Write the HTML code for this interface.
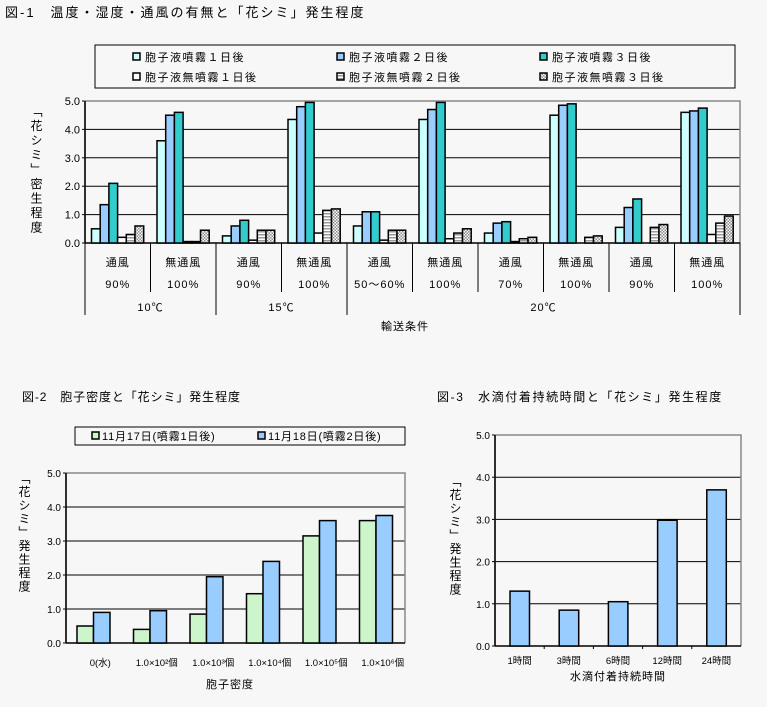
<!DOCTYPE html>
<html><head><meta charset="utf-8"><style>
body{margin:0;background:#f7f7f7;}
#w{position:relative;width:767px;height:707px;overflow:hidden;font-family:"Liberation Sans","Noto Sans CJK JP",sans-serif;}
.v{position:absolute;writing-mode:vertical-rl;font-size:12px;color:#000;}
</style></head><body><div id="w">
<svg id="s" width="767" height="707" xmlns="http://www.w3.org/2000/svg" style="position:absolute;left:0;top:0" font-family="Liberation Sans, Noto Sans CJK JP, sans-serif" font-size="11">
<defs>
<pattern id="hs" width="4" height="3" patternUnits="userSpaceOnUse"><rect width="4" height="3" fill="#fff"/><rect width="4" height="1.5" fill="#999"/></pattern>
<pattern id="dt" width="3" height="3" patternUnits="userSpaceOnUse"><rect width="3" height="3" fill="#fff"/><rect width="1.5" height="1.5" fill="#888"/><rect x="1.5" y="1.5" width="1.5" height="1.5" fill="#888"/></pattern>
</defs>
<text x="5" y="17" font-size="13" letter-spacing="2">図-1　温度・湿度・通風の有無と「花シミ」発生程度</text>
<rect x="95" y="45" width="640" height="43" fill="none" stroke="#000"/>
<g font-size="11" letter-spacing="1.5">
<rect x="133" y="53" width="7" height="7" fill="#ccffff" stroke="#000" stroke-width="1.5"/><text x="145" y="61">胞子液噴霧１日後</text>
<rect x="337" y="53" width="7" height="7" fill="#99ccff" stroke="#000" stroke-width="1.5"/><text x="349" y="61">胞子液噴霧２日後</text>
<rect x="540" y="53" width="7" height="7" fill="#33cccc" stroke="#000" stroke-width="1.5"/><text x="552" y="61">胞子液噴霧３日後</text>
<rect x="133" y="73" width="7" height="7" fill="#fff" stroke="#000" stroke-width="1.5"/><text x="145" y="81">胞子液無噴霧１日後</text>
<rect x="337" y="73" width="7" height="7" fill="url(#hs)" stroke="#000" stroke-width="1.5"/><text x="349" y="81">胞子液無噴霧２日後</text>
<rect x="540" y="73" width="7" height="7" fill="url(#dt)" stroke="#000" stroke-width="1.5"/><text x="552" y="81">胞子液無噴霧３日後</text>
</g>
<g id="g1"></g>
<g font-size="11" text-anchor="middle" id="l1" letter-spacing="1"></g>
<text x="405" y="330" font-size="11" text-anchor="middle" letter-spacing="1">輸送条件</text>

<text x="22" y="401" font-size="12" letter-spacing="0.9">図-2　胞子密度と「花シミ」発生程度</text>
<rect x="75" y="427" width="330" height="18" fill="none" stroke="#000"/>
<rect x="92" y="432" width="7" height="7" fill="#ccf5cc" stroke="#000" stroke-width="1.5"/><text x="102" y="440" letter-spacing="0.8">11月17日(噴霧1日後)</text>
<rect x="258" y="432" width="7" height="7" fill="#99ccff" stroke="#000" stroke-width="1.5"/><text x="268" y="440" letter-spacing="0.8">11月18日(噴霧2日後)</text>
<g id="g2"></g>
<text x="230" y="688" font-size="11" text-anchor="middle" letter-spacing="1">胞子密度</text>

<text x="437" y="401" font-size="12" letter-spacing="1.6">図-3　水滴付着持続時間と「花シミ」発生程度</text>
<g id="g3"></g>
<text x="618" y="680" font-size="11" text-anchor="middle" letter-spacing="1">水滴付着持続時間</text>
</svg>
<div class="v" style="left:28px;top:105px;letter-spacing:2.5px;">「花シミ」密生程度</div>
<div class="v" style="left:16px;top:472px;letter-spacing:1.5px;">「花シミ」発生程度</div>
<div class="v" style="left:447px;top:475px;letter-spacing:1.5px;">「花シミ」発生程度</div>
</div>
<script>
const NS="http://www.w3.org/2000/svg";
function el(p,t,a,txt){const e=document.createElementNS(NS,t);for(const k in a)e.setAttribute(k,a[k]);if(txt!==undefined)e.textContent=txt;p.appendChild(e);return e;}
function axes(g,x0,x1,y0,y5,fs){
 for(let i=0;i<=5;i++){const y=y0-(y0-y5)*i/5;
  if(i>0&&i<5)el(g,'line',{x1:x0,x2:x1,y1:y,y2:y,stroke:'#000'});
  el(g,'text',{x:x0-5,y:y+4,'text-anchor':'end','font-size':fs},i.toFixed(1));
  el(g,'line',{x1:x0-3,x2:x0,y1:y,y2:y,stroke:'#000'});}
 el(g,'polyline',{points:`${x0},${y0} ${x0},${y5} ${x1},${y5} ${x1},${y0}`,fill:'none',stroke:'#888',"stroke-width":1.5});
 el(g,'line',{x1:x0,x2:x0,y1:y0,y2:y5,stroke:'#000',"stroke-width":1.5});
 el(g,'line',{x1:x0,x2:x1,y1:y0,y2:y0,stroke:'#000',"stroke-width":1.5});
}
let g=document.getElementById('g1');
const X0=85,X1=740,Y0=243,Y5=101,s=(Y0-Y5)/5,gw=(X1-X0)/10;
axes(g,X0,X1,Y0,Y5,11);
const d1=[[0.5,1.35,2.1,0.2,0.3,0.6],[3.6,4.5,4.6,0.05,0.05,0.45],[0.25,0.6,0.8,0.1,0.45,0.45],[4.35,4.8,4.95,0.35,1.15,1.2],[0.6,1.1,1.1,0.1,0.45,0.45],[4.35,4.7,4.95,0.15,0.35,0.5],[0.35,0.7,0.75,0.05,0.15,0.2],[4.5,4.85,4.9,0,0.2,0.25],[0.55,1.25,1.55,0,0.55,0.65],[4.6,4.65,4.75,0.3,0.7,0.95]];
const f1=['#ccffff','#99ccff','#33cccc','#fff','url(#hs)','url(#dt)'];
const bw=8.7;
d1.forEach((r,i)=>{r.forEach((v,j)=>{if(v<=0)return;const x=X0+gw*i+6.5+j*bw;el(g,'rect',{x:x,y:Y0-v*s,width:bw,height:v*s,fill:f1[j],stroke:'#000','stroke-width':1.5});});});
let L=document.getElementById('l1');
const r2=['90%','100%','90%','100%','50～60%','100%','70%','100%','90%','100%'];
for(let i=0;i<10;i++){const cx=X0+gw*(i+.5);el(L,'text',{x:cx,y:266},i%2?'無通風':'通風');el(L,'text',{x:cx,y:288},r2[i]);}
for(let i=0;i<=10;i++){const x=X0+gw*i;const long=[0,2,4,10].includes(i);el(g,'line',{x1:x,x2:x,y1:Y0,y2:long?315:292,stroke:'#000'});}
[['10℃',1],['15℃',3],['20℃',7]].forEach(a=>el(L,'text',{x:X0+gw*a[1],y:311},a[0]));
g=document.getElementById('g2');
const A0=66,A1=405,B0=643,B5=473,s2=(B0-B5)/5,gw2=(A1-A0)/6;
axes(g,A0,A1,B0,B5,10);
const d2=[[0.5,0.9],[0.4,0.95],[0.85,1.95],[1.45,2.4],[3.15,3.6],[3.6,3.75]];
d2.forEach((r,i)=>r.forEach((v,j)=>{const x=A0+gw2*i+11+j*16.5;el(g,'rect',{x:x,y:B0-v*s2,width:16.5,height:v*s2,fill:j?'#99ccff':'#ccf5cc',stroke:'#000','stroke-width':1.5});}));
const lb2=['0(水)','1.0×10²個','1.0×10³個','1.0×10⁴個','1.0×10⁵個','1.0×10⁶個'];
lb2.forEach((t,i)=>el(g,'text',{x:A0+gw2*(i+.5)+6,y:666,'text-anchor':'middle','font-size':9.5},t));
g=document.getElementById('g3');
const C0=495,C1=741,D0=646,D5=435,s3=(D0-D5)/5,gw3=(C1-C0)/5;
axes(g,C0,C1,D0,D5,10);
[1.3,0.85,1.05,2.98,3.7].forEach((v,i)=>{const x=C0+gw3*i+15;el(g,'rect',{x:x,y:D0-v*s3,width:19.5,height:v*s3,fill:'#99ccff',stroke:'#000','stroke-width':1.5});});
['1時間','3時間','6時間','12時間','24時間'].forEach((t,i)=>el(g,'text',{x:C0+gw3*(i+.5),y:664,'text-anchor':'middle','font-size':9.5},t));
for(let i=1;i<5;i++){const x=C0+gw3*i;el(g,'line',{x1:x,x2:x,y1:D0,y2:D0+3,stroke:'#000'});}
</script>
</body></html>
